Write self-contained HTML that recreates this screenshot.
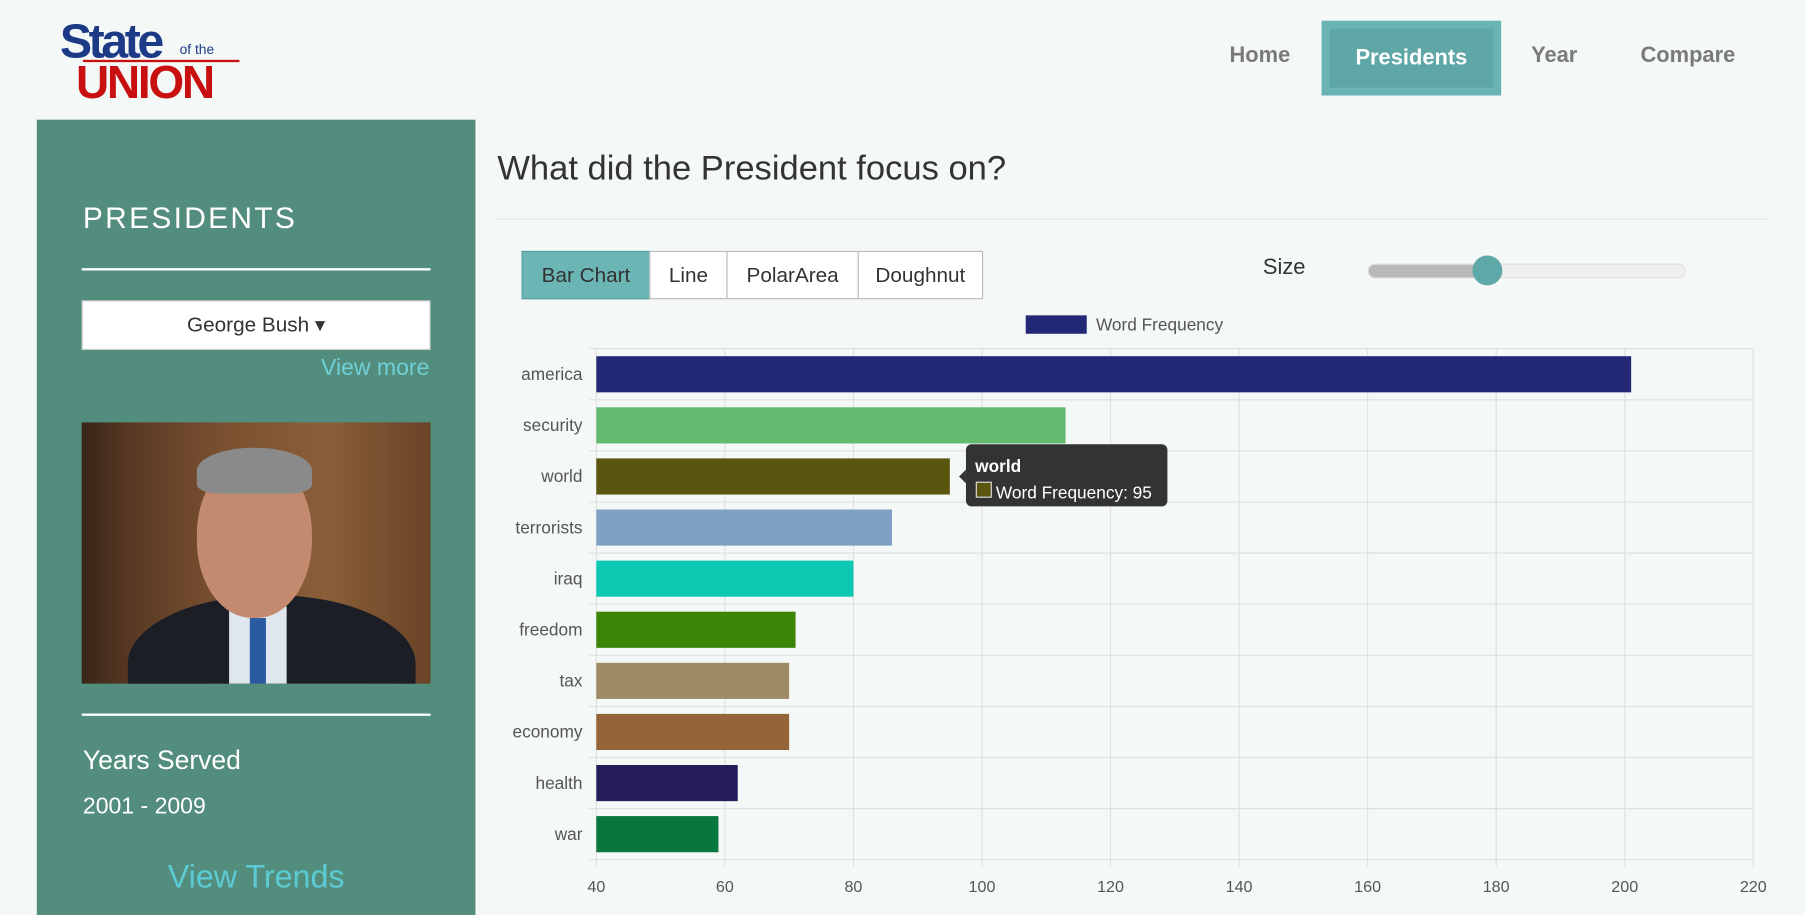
<!DOCTYPE html>
<html><head><meta charset="utf-8">
<style>
html,body{margin:0;padding:0;width:1805px;height:915px;overflow:hidden;background:#f4f8f7;}
#root{position:absolute;left:0;top:0;width:1568px;height:795px;transform:scale(1.1512,1.1509);transform-origin:0 0;font-family:"Liberation Sans",sans-serif;}
.abs{position:absolute;}
.nav{position:absolute;top:38px;font-size:19px;font-weight:bold;color:#7a7a7a;}
.btn{position:absolute;top:218px;height:42px;border:1px solid #bbb;background:#fff;font-size:18px;color:#333;box-sizing:border-box;text-align:center;line-height:40px;}
</style></head><body>
<div id="root">
<div class="abs" style="left:52px;top:12px;width:160px;height:85px;">
 <div class="abs" style="left:0;top:0;font-size:42px;font-weight:bold;color:#1d3a87;letter-spacing:-3px;">State</div>
 <div class="abs" style="left:104px;top:24px;font-size:12px;color:#1d3a87;">of the</div>
 <div class="abs" style="left:20px;top:40px;width:136px;height:2px;background:#c81010;"></div>
 <div class="abs" style="left:14px;top:38px;font-size:40px;font-weight:bold;color:#c81010;letter-spacing:-2px;">UNION</div>
</div>
<div class="nav" style="left:1068px;">Home</div>
<div class="abs" style="left:1148px;top:18px;width:156px;height:65px;background:#6ab3b3;">
 <div class="abs" style="left:7px;top:7px;width:142px;height:51px;background:#5fa6a6;color:#fff;font-size:19px;font-weight:bold;text-align:center;line-height:51px;">Presidents</div></div>
<div class="nav" style="left:1330px;">Year</div>
<div class="nav" style="left:1425px;">Compare</div>

<div class="abs" style="left:32px;top:104px;width:381px;height:691px;background:#538d7d;color:#fff;">
 <div class="abs" style="left:40px;top:70px;font-size:26px;letter-spacing:2px;">PRESIDENTS</div>
 <div class="abs" style="left:39px;top:129px;width:303px;height:2px;background:#fff;"></div>
 <div class="abs" style="left:39px;top:157px;width:303px;height:43px;background:#fff;border:1px solid #ccc;box-sizing:border-box;color:#333;font-size:18px;text-align:center;line-height:41px;">George Bush ▾</div>
 <div class="abs" style="right:40px;top:205px;font-size:20px;color:#6fd0d8;">View more</div>
 <div class="abs" style="left:39px;top:263px;width:303px;height:227px;background:linear-gradient(90deg,#3a2518 0%,#5a3a24 15%,#7a5030 40%,#8a5e38 70%,#6a4428 100%);overflow:hidden;">
  <div class="abs" style="left:40px;top:150px;width:250px;height:120px;border-radius:50% 50% 0 0;background:#1c1e26;"></div>
  <div class="abs" style="left:128px;top:160px;width:50px;height:70px;background:#dfe6ee;"></div>
  <div class="abs" style="left:146px;top:170px;width:14px;height:60px;background:#2a5aa0;"></div>
  <div class="abs" style="left:100px;top:30px;width:100px;height:140px;border-radius:48%;background:#c48a70;"></div>
  <div class="abs" style="left:100px;top:22px;width:100px;height:40px;border-radius:50% 50% 20% 20%;background:#8a8a8a;"></div>
 </div>
 <div class="abs" style="left:39px;top:516px;width:303px;height:2px;background:#fff;"></div>
 <div class="abs" style="left:40px;top:543px;font-size:23px;">Years Served</div>
 <div class="abs" style="left:40px;top:586px;font-size:20px;">2001 - 2009</div>
 <div class="abs" style="left:0;width:381px;text-align:center;top:642px;font-size:28px;color:#5ccbd3;">View Trends</div>
</div>

<div class="abs" style="left:432px;top:130px;font-size:30px;color:#333;">What did the President focus on?</div>
<div class="abs" style="left:432px;top:190px;width:1105px;height:1px;background:#e2e6e5;"></div>

<div class="btn" style="left:453px;width:112px;background:#6bb5b5;border-color:#5a9f9f;">Bar Chart</div>
<div class="btn" style="left:564px;width:68px;">Line</div>
<div class="btn" style="left:631px;width:115px;">PolarArea</div>
<div class="btn" style="left:745px;width:109px;">Doughnut</div>

<div class="abs" style="left:1097px;top:222px;font-size:19px;color:#333;">Size</div>
<div class="abs" style="left:1188px;top:229px;width:274px;height:11px;border-radius:6px;background:#f0eeee;border:1px solid #e0e0e0;">
 <div class="abs" style="left:0;top:0;width:103px;height:11px;border-radius:6px;background:#b9b9b9;"></div>
 <div class="abs" style="left:90px;top:-8px;width:26px;height:26px;border-radius:50%;background:#5fa8a8;"></div>
</div>

<svg class="abs" style="left:0;top:0" width="1568" height="795" id="chart"></svg>
</div>
<script>
const categories=["america","security","world","terrorists","iraq","freedom","tax","economy","health","war"];
const values=[201,113,95,86,80,71,70,70,62,59];
const colors=["#232876","#62b96f","#5b560f","#7fa1c4","#0dc9b3","#3a8607","#9e8b65","#956539","#251c5a","#08763f"];
const ticks=[40,60,80,100,120,140,160,180,200,220];
const NS="http://www.w3.org/2000/svg";
const svg=document.getElementById('chart');
const x0=518,x1=1523,yTop=303,yBot=747,vmin=40,vmax=220;
const xs=v=>x0+(v-vmin)/(vmax-vmin)*(x1-x0);
const band=(yBot-yTop)/categories.length;
const yb=i=>yTop+i*band;
function el(t,a){const e=document.createElementNS(NS,t);for(const k in a)e.setAttribute(k,a[k]);svg.appendChild(e);return e;}
ticks.forEach(t=>{
 const g=el('line',{x1:xs(t),x2:xs(t),y1:yTop,y2:yBot+6,stroke:'#e0e0e0'});
 
 
 const tx=el('text',{x:xs(t),y:775,'text-anchor':'middle','font-size':14,fill:'#555','font-family':'Liberation Sans, sans-serif'});
 tx.textContent=t;
 
 
});
for(let i=0;i<=categories.length;i++){
 const g=el('line',{x1:x0-6,x2:x1,y1:yb(i),y2:yb(i),stroke:'#e0e0e0'});
 
 
}
categories.forEach((c,i)=>{
 const r=el('rect',{x:x0,y:yb(i)+6.5,width:xs(values[i])-x0,height:band-13,fill:colors[i]});
 
 
 const t=el('text',{x:506,y:yb(i)+band/2+5,'text-anchor':'end','font-size':15,fill:'#555','font-family':'Liberation Sans, sans-serif'});
 t.textContent=c;
 
 
});
// legend
const lb=el('rect',{x:891,y:274,width:53,height:16,fill:colors[0]});


const lt=el('text',{x:952,y:287,'font-size':15,fill:'#555','font-family':'Liberation Sans, sans-serif'});
lt.textContent='Word Frequency';


// tooltip for world
const wi=2,tx0=xs(values[wi])+14,ty0=yb(wi)+band/2;
const tg=el('g',{});


const tb=el('rect',{x:tx0,y:ty0-28,width:175,height:54,rx:5,fill:'#333'});tg.appendChild(tb);
const ta=el('path',{d:`M${tx0-6} ${ty0} L${tx0} ${ty0-6} L${tx0} ${ty0+6} Z`,fill:'#333'});tg.appendChild(ta);
const t1=el('text',{x:tx0+8,y:ty0-4,'font-size':15,'font-weight':'bold',fill:'#fff','font-family':'Liberation Sans, sans-serif'});t1.textContent=categories[wi];tg.appendChild(t1);
const sw=el('rect',{x:tx0+9,y:ty0+5,width:13,height:13,fill:colors[wi],stroke:'#ddd'});tg.appendChild(sw);
const t2=el('text',{x:tx0+26,y:ty0+19,'font-size':15,fill:'#fff','font-family':'Liberation Sans, sans-serif'});t2.textContent='Word Frequency: '+values[wi];tg.appendChild(t2);
</script>
</body></html>
